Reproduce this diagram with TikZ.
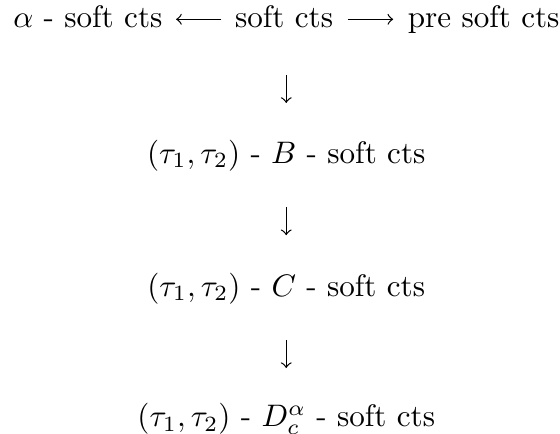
\documentclass[tikz,border=0pt]{standalone}
\begin{document}
\begin{tikzpicture}[
  lbl/.style={inner sep=0pt, anchor=base},
  arr/.style={->, line width=0.4pt}
]
\useasboundingbox (0,0) rectangle (180pt,-139.5pt);
% top row
\node[lbl] (s) at (91.3pt,-8.7pt) {soft cts};
\node[lbl, anchor=base east] (a) at (52.4pt,-8.7pt) {$\alpha$ - soft cts};
\node[lbl, anchor=base west] (p) at (130.9pt,-8.7pt) {pre soft cts};
% column
\node[lbl] (b) at (92pt,-52.4pt) {$(\tau_1,\tau_2)$ - $B$ - soft cts};
\node[lbl] (c) at (92pt,-95.2pt) {$(\tau_1,\tau_2)$ - $C$ - soft cts};
\node[lbl] (d) at (92pt,-137.2pt) {$(\tau_1,\tau_2)$ - $D^\alpha_c$ - soft cts};
% horizontal arrows
\draw[arr] ([xshift=-4.2pt,yshift=2.5pt]s.base west) -- ([xshift=4.2pt,yshift=2.5pt]a.base east);
\draw[arr] ([xshift=4.5pt,yshift=2.5pt]s.base east) -- ([xshift=-4.5pt,yshift=2.5pt]p.base west);
% vertical arrows
\draw[arr] ([yshift=-15.4pt]b.base |- s.base) -- ([yshift=19.3pt]b.base);
\draw[arr] ([yshift=-14.2pt]b.base) -- ([yshift=19.6pt]c.base);
\draw[arr] ([yshift=-14.1pt]c.base) -- ([yshift=18.9pt]d.base);
\end{tikzpicture}
\end{document}
